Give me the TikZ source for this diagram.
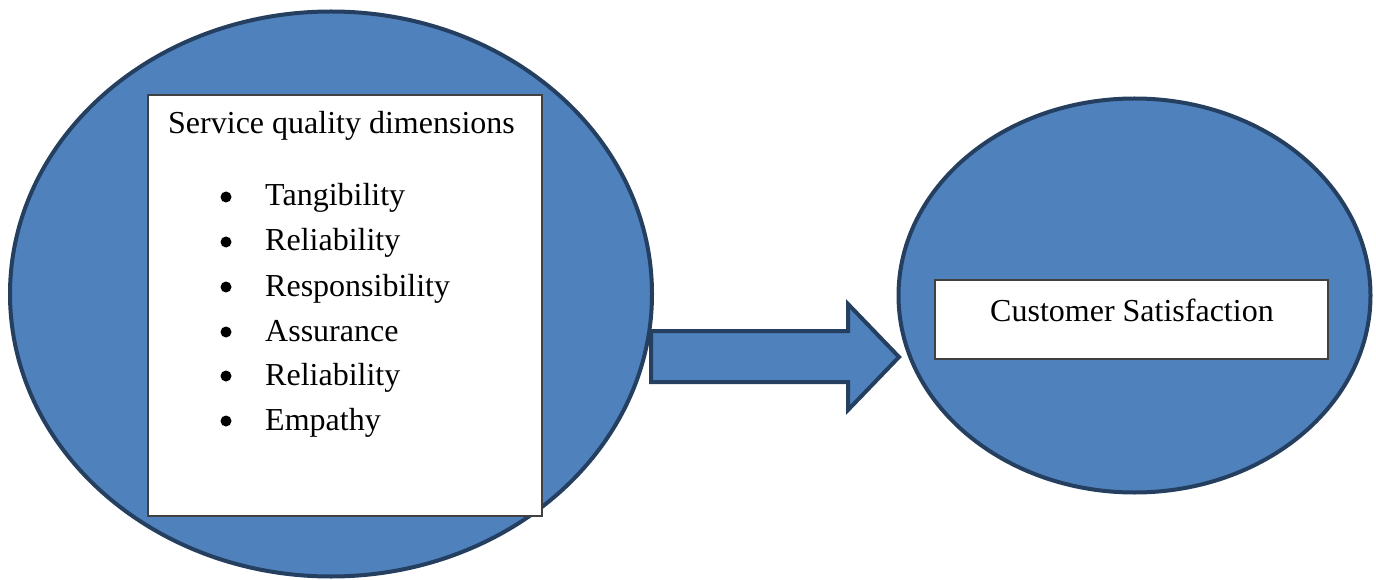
\documentclass[tikz,border=0pt]{standalone}
\usepackage{fontspec}
\setmainfont{Liberation Serif}
\usetikzlibrary{shapes.geometric}
\definecolor{fillblue}{HTML}{4F81BD}
\definecolor{edgeblue}{HTML}{243F60}
\begin{document}
\begin{tikzpicture}[x=1pt,y=-1pt,
  blob/.style={ellipse,draw=edgeblue,fill=fillblue,line width=4pt,inner sep=0pt,outer sep=0pt},
  whitebox/.style={rectangle,draw=black!75,fill=white,line width=1.2pt,inner sep=0pt,outer sep=0pt},
  txt/.style={anchor=base west,inner sep=0pt,font=\fontsize{32}{36}\selectfont},
  bul/.style={circle,fill=black,inner sep=0pt,minimum size=11pt}]
\useasboundingbox (0,0) rectangle (1376,580);
\node[blob,minimum width=642pt,minimum height=565pt] (left) at (331,294) {};
\node[blob,minimum width=472pt,minimum height=394pt] (right) at (1134.5,295.5) {};
\node[whitebox,minimum width=394pt,minimum height=421pt] (box1) at (345,305.5) {};
\node[whitebox,minimum width=393pt,minimum height=79pt] (box2) at (1131.5,319.5) {};
\node[txt] (title) at (168,134) {Service quality dimensions};
\foreach \t/\yy [count=\i] in {Tangibility/206,Reliability/251,Responsibility/296,Assurance/341,Reliability/385,Empathy/430}{
  \node[txt] (item\i) at (265,\yy) {\t};
  \node[bul] (b\i) at (226,\yy-9) {};
}
\node[txt] (cs) at (990,321) {Customer Satisfaction};
\draw[edgeblue,fill=fillblue,line width=4pt,line join=miter]
  (651,331) -- (848,331) -- (848,304) -- (899,357) -- (848,410) -- (848,382) -- (651,382) -- cycle;
\end{tikzpicture}
\end{document}
